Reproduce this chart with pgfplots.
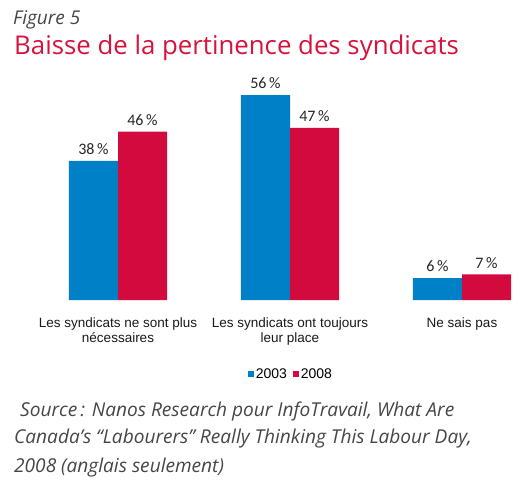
\documentclass[border=0pt]{standalone}
\usepackage{pgfplots}
\pgfplotsset{compat=1.18}
\usepackage{fontspec}
\setmainfont{Liberation Sans}
\newfontfamily\titlefont{Open Sans}
\newfontfamily\calfont{Carlito}
\definecolor{cblue}{RGB}{0,128,198}
\definecolor{cred}{RGB}{210,10,62}
\definecolor{tred}{RGB}{215,18,60}
\definecolor{tgray}{RGB}{70,70,70}
\begin{document}
\begin{tikzpicture}
\path[use as bounding box] (0pt,0pt) rectangle (529pt,480pt);
\node[anchor=base west, inner sep=0pt, font=\titlefont\itshape\fontsize{19}{22}\selectfont, text=tgray] at (13pt,455pt) {Figure 5};
\node[anchor=base west, inner sep=0pt, font=\titlefont\fontsize{25.8}{30}\selectfont, text=tred] at (14pt,425pt) {Baisse de la pertinence des syndicats};
\node[anchor=base west, inner sep=0pt, font=\titlefont\itshape\fontsize{19.1}{27}\selectfont, text=tgray] at (20pt,64pt) {Source\,: Nanos Research pour InfoTravail, What Are};
\node[anchor=base west, inner sep=0pt, font=\titlefont\itshape\fontsize{19.1}{27}\selectfont, text=tgray] at (14pt,37pt) {Canada’s “Labourers” Really Thinking This Labour Day,};
\node[anchor=base west, inner sep=0pt, font=\titlefont\itshape\fontsize{19.1}{27}\selectfont, text=tgray] at (14pt,8pt) {2008 (anglais seulement)};
\coordinate (ax) at (66.4pt,180pt);
\begin{axis}[
  at={(ax)}, anchor=south west,
  scale only axis, width=447.2pt, height=219.6pt,
  xmin=-0.3, xmax=2.3, ymin=0, ymax=60,
  ybar=0pt, bar width=0.285,
  axis line style={draw=none},
  ytick=\empty,
  xtick={0,1,2},
  xticklabels={{Les syndicats ne sont plus\\nécessaires},{Les syndicats ont toujours\\leur place},{Ne sais pas}},
  major tick length=0pt,
  xticklabel style={align=center, font=\fontsize{13.5}{15}\selectfont, text=black!90, yshift=-14pt},
  /pgf/number format/assume math mode=true,
  nodes near coords={\pgfmathprintnumber{\pgfplotspointmeta}\,\%},
  nodes near coords style={font=\calfont\fontsize{16}{18}\selectfont, text=black!85, yshift=2.5pt},
  legend style={at={(0.502,-0.337)}, anchor=center, draw=none, legend columns=2,
    font=\fontsize{14}{16}\selectfont,
    /tikz/every even column/.append style={column sep=4pt}},
  legend image code/.code={\fill[#1] (0pt,-3pt) rectangle (6pt,3pt);},
]
\addplot[fill=cblue, draw=none] coordinates {(0,38) (1,56) (2,6)};
\addplot[fill=cred, draw=none] coordinates {(0,46) (1,47) (2,7)};
\legend{2003,2008}
\end{axis}
\end{tikzpicture}
\end{document}
